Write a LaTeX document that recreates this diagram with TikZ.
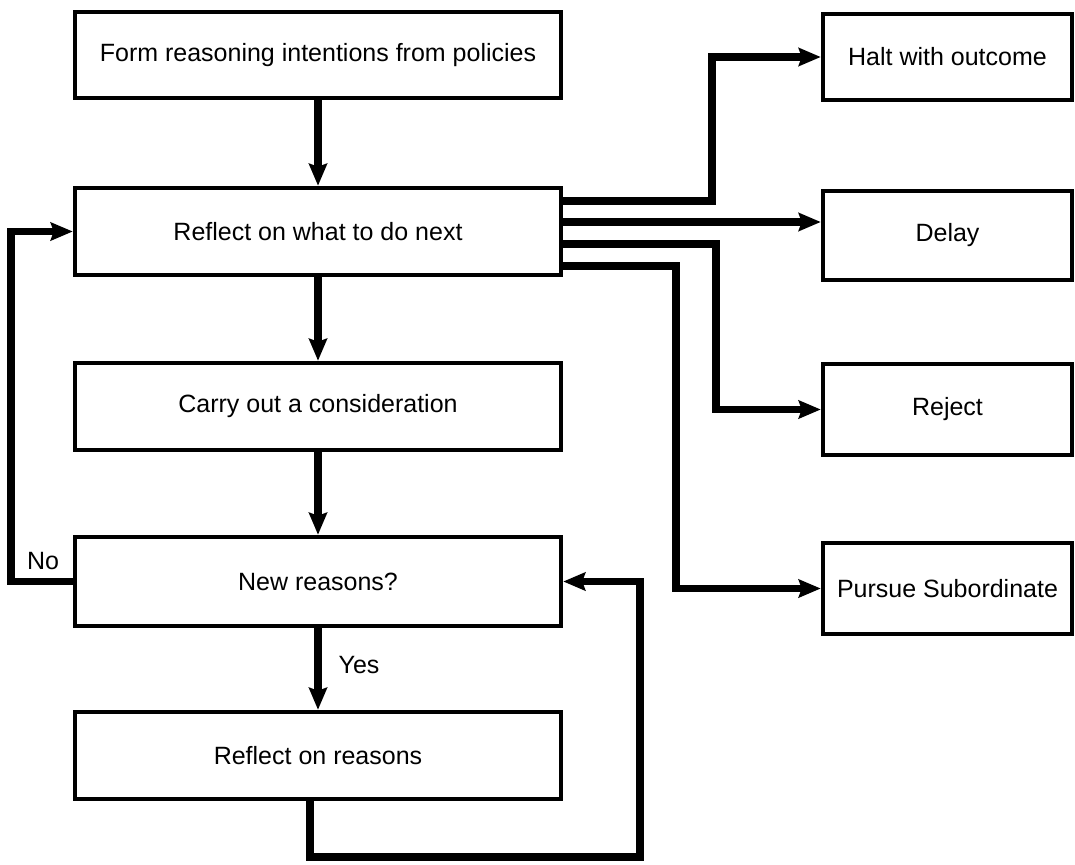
\documentclass[tikz,border=0pt]{standalone}
\usepackage{fontspec}
\setmainfont{Liberation Sans}
\usetikzlibrary{arrows.meta}
\tikzset{
  box/.style={draw, line width=4.5pt, inner sep=0pt, minimum width=486pt,
    font=\fontsize{25}{30}\selectfont},
  rbox/.style={draw, line width=4.5pt, inner sep=0pt, minimum width=249pt,
    font=\fontsize{25}{30}\selectfont},
  conn/.style={line width=7.5pt, -{Stealth[length=22pt,width=18pt,inset=3pt]}},
  plainconn/.style={line width=7.5pt},
  lbl/.style={font=\fontsize{25}{30}\selectfont, inner sep=0pt}
}
\begin{document}
\begin{tikzpicture}[x=1pt,y=-1pt]
\useasboundingbox (0,0) rectangle (1075,864);
% main column
\node[box, minimum height=86pt] (b1) at (318,55) {Form reasoning intentions from policies};
\node[box, minimum height=87pt] (b2) at (318,231.5) {Reflect on what to do next};
\node[box, minimum height=87pt] (b3) at (318,406.5) {Carry out a consideration};
\node[box, minimum height=89pt] (b4) at (318,581.5) {New reasons?};
\node[box, minimum height=87pt] (b5) at (318,755.5) {Reflect on reasons};
% right column
\node[rbox, minimum height=86pt] (halt) at (947.5,57) {Halt with outcome};
\node[rbox, minimum height=89pt] (delay) at (947.5,235.5) {Delay};
\node[rbox, minimum height=91pt] (reject) at (947.5,409.5) {Reject};
\node[rbox, minimum height=91pt] (pursue) at (947.5,588.5) {Pursue Subordinate};
% bend coordinates
\coordinate (k1) at (712,201);
\coordinate (k2) at (700,222);
\coordinate (k3) at (716,244);
\coordinate (k4) at (676,266);
\coordinate (c1) at (640,857);
% vertical flow
\draw[conn] (b1) -- (b2);
\draw[conn] (b2) -- (b3);
\draw[conn] (b3) -- (b4);
\draw[conn] (b4) -- (b5);
% outcomes
\draw[conn] (b2.east |- k1) -- (k1) |- (halt.west);
\draw[conn] (b2.east |- k2) -- (delay.west |- k2);
\draw[conn] (b2.east |- k3) -- (k3) |- (reject.west);
\draw[conn] (b2.east |- k4) -- (k4) |- (pursue.west);
% No loop
\draw[conn] (b4.west) -- ++(-62,0) |- (b2.west);
% reasons loop
\draw[conn] ([xshift=-8pt]b5.south) |- (c1) |- (b4.east);
% labels
\node[lbl] (no) at (43,561) {No};
\node[lbl] (yes) at (359,665) {Yes};
\end{tikzpicture}
\end{document}
